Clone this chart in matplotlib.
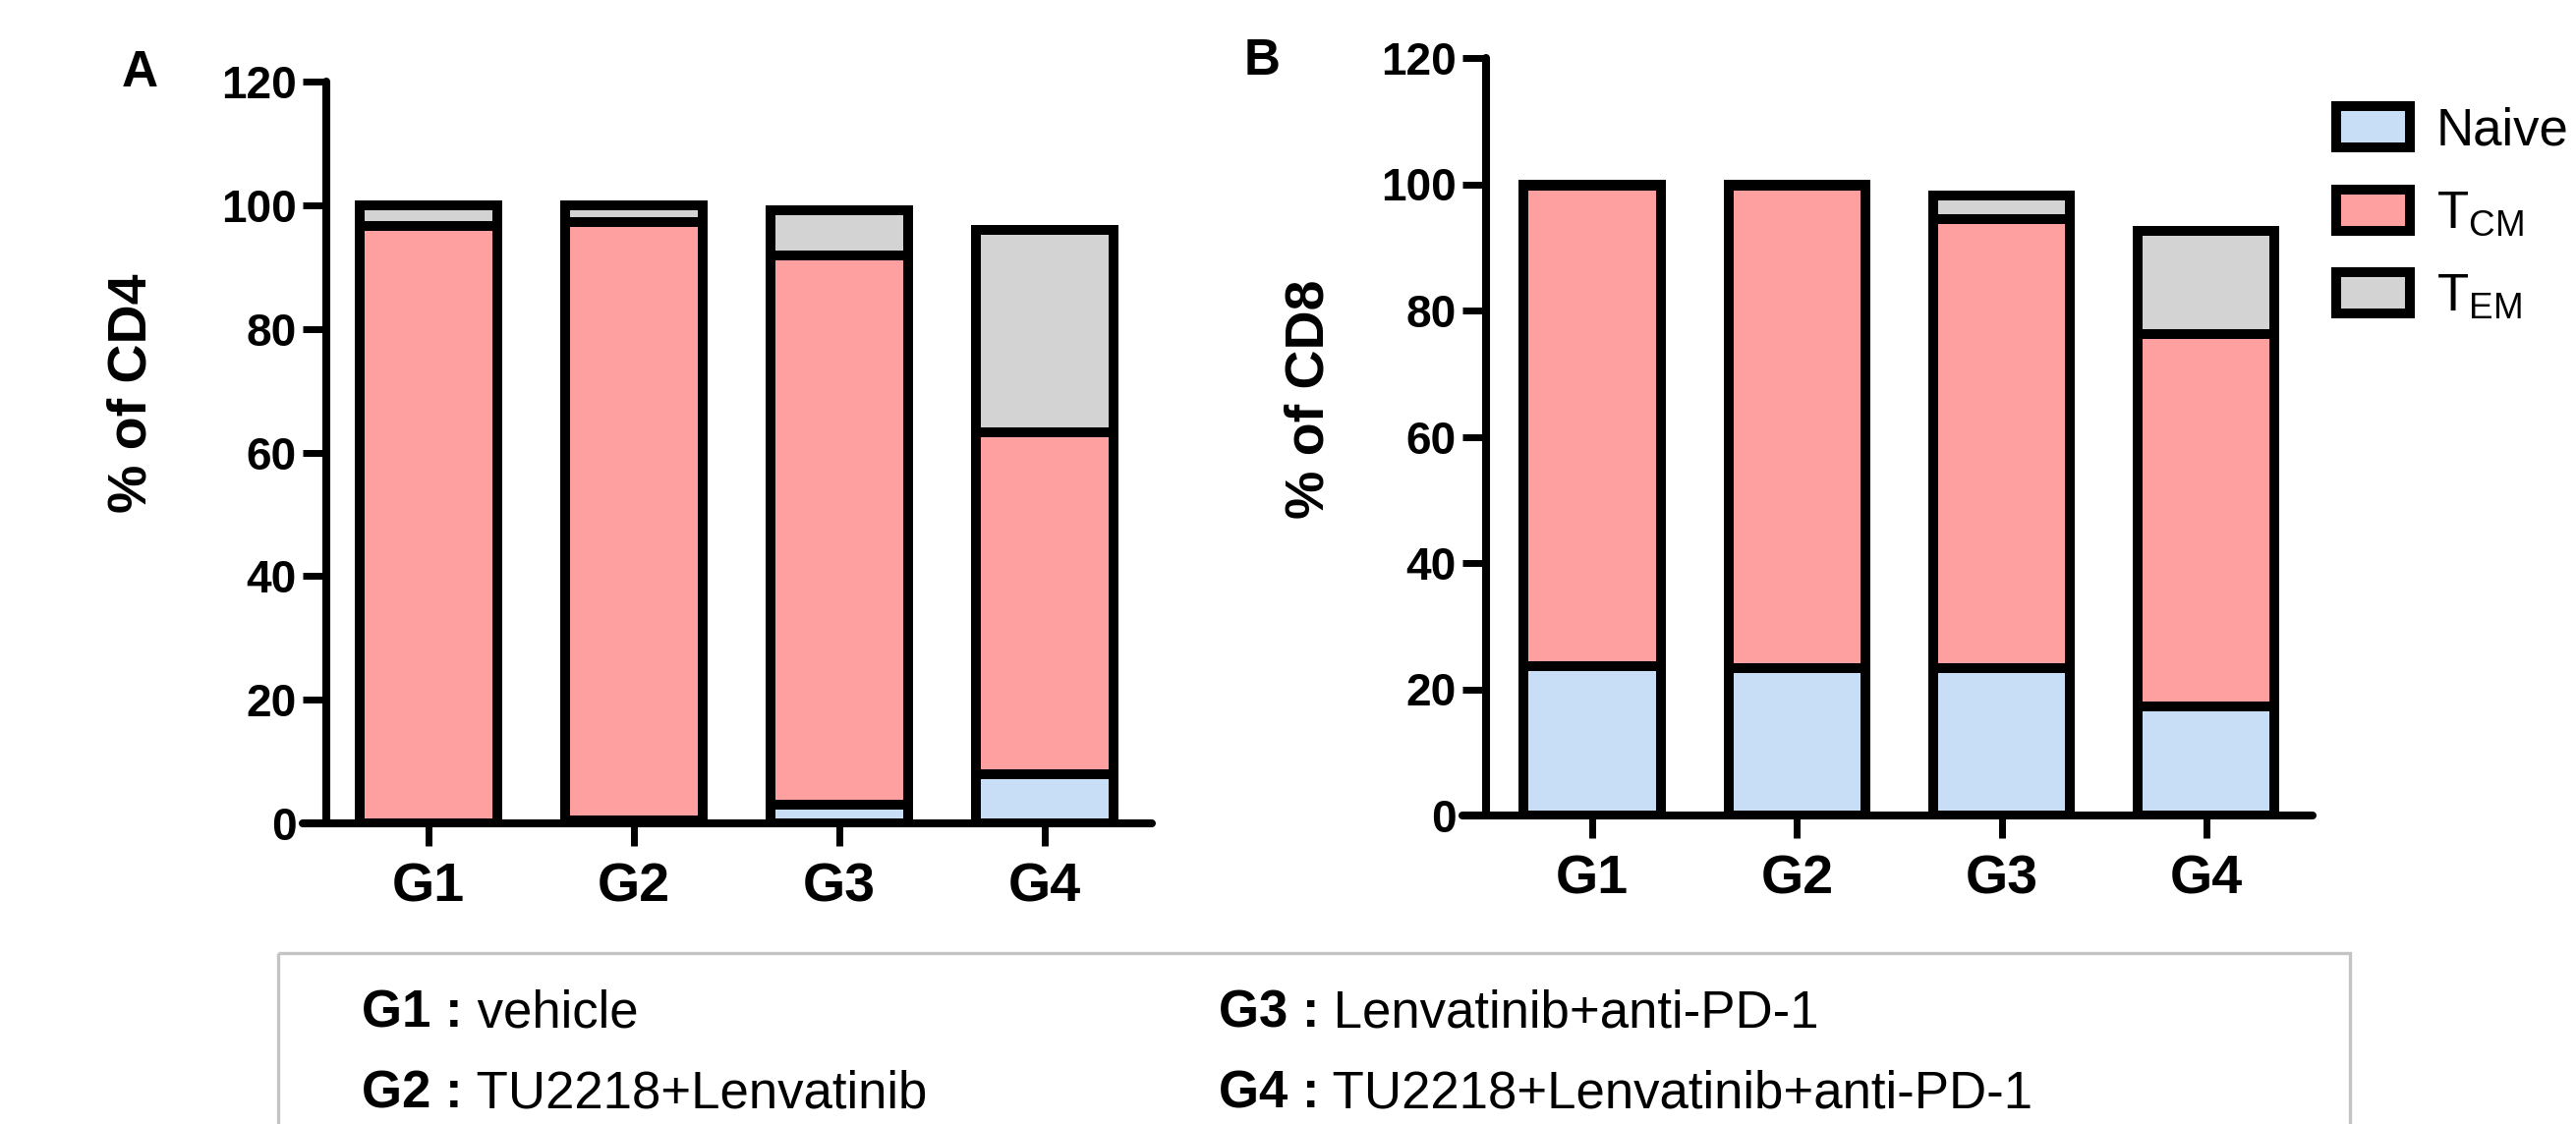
import matplotlib
matplotlib.use("Agg")
import matplotlib.pyplot as plt
from matplotlib.patches import Patch, Rectangle

plt.rcParams['font.family'] = ['Liberation Sans', 'DejaVu Sans']
plt.rcParams['mathtext.fontset'] = 'custom'
plt.rcParams['mathtext.rm'] = 'Liberation Sans'

groups = ['G1', 'G2', 'G3', 'G4']
subsets = ['Naive', r'T$_{\mathrm{CM}}$', r'T$_{\mathrm{EM}}$']
colors = ['#C8DEF6', '#FFA0A0', '#D3D3D3']
yticks = [0, 20, 40, 60, 80, 100, 120]

# % of CD4
cd4_naive = [0.0, 0.5, 3.0, 8.0]
cd4_tcm = [96.6, 96.7, 88.8, 55.2]
cd4_tem = [3.4, 2.8, 7.3, 32.8]

# % of CD8
cd8_naive = [23.7, 23.3, 23.4, 17.2]
cd8_tcm = [76.0, 76.4, 71.1, 59.0]
cd8_tem = [0.3, 0.3, 3.7, 16.4]

legend_text = [('G1 :', 'vehicle'), ('G2 :', 'TU2218+Lenvatinib'),
               ('G3 :', 'Lenvatinib+anti-PD-1'), ('G4 :', 'TU2218+Lenvatinib+anti-PD-1')]

W, H = 2621, 1144
fig = plt.figure(figsize=(W / 200, H / 200), dpi=200)

lw = 3.6


def stacked(ax, naive, tcm, tem, ylabel, spine_x, label_xy):
    # spine position first: moving a spine resets the ticks
    ax.spines['top'].set_visible(False)
    ax.spines['right'].set_visible(False)
    ax.spines['left'].set_position(('data', spine_x))
    for s in ('left', 'bottom'):
        ax.spines[s].set_linewidth(2.9)
        ax.spines[s].set_capstyle('round')

    x = range(len(groups))
    bottom2 = [a + b for a, b in zip(naive, tcm)]
    ax.bar(x, naive, 0.67, color=colors[0], edgecolor='black', linewidth=lw)
    ax.bar(x, tcm, 0.67, bottom=naive, color=colors[1], edgecolor='black', linewidth=lw)
    ax.bar(x, tem, 0.67, bottom=bottom2, color=colors[2], edgecolor='black', linewidth=lw)
    ax.set_ylim(0, 120)
    ax.set_xlim(spine_x - 0.115, 3.52)
    ax.tick_params(axis='y', width=2.5, length=8.6, pad=2.2)
    ax.tick_params(axis='x', width=2.5, length=8.3, pad=6)
    ax.set_yticks(yticks, labels=[str(v) for v in yticks], fontsize=16.5, fontweight='bold')
    ax.set_xticks(list(x), labels=groups, fontsize=20, fontweight='bold')
    ax.set_ylabel(ylabel, fontsize=20, fontweight='bold')
    ax.yaxis.set_label_coords(*label_xy)


ax_a = fig.add_axes([307.5 / W, 1 - 838 / H, 864 / W, 755 / H])
stacked(ax_a, cd4_naive, cd4_tcm, cd4_tem, '% of CD4', -0.5, (-0.17, 0.58))

ax_b = fig.add_axes([1488 / W, 1 - 830 / H, 865 / W, 771 / H])
stacked(ax_b, cd8_naive, cd8_tcm, cd8_tem, '% of CD8', -0.52, (-0.15, 0.55))

fig.text(142 / W, 1 - 75 / H, 'A', fontsize=18.5, fontweight='bold', ha='center', va='center')
fig.text(1284 / W, 1 - 63 / H, 'B', fontsize=18.5, fontweight='bold', ha='center', va='center')

handles = [Patch(facecolor=c, edgecolor='black', linewidth=3.6) for c in colors]
fig.legend(handles, subsets, loc='upper left', bbox_to_anchor=(2377 / W, 1 - 108 / H),
           frameon=False, fontsize=19, handlelength=1.43, handleheight=0.85,
           handletextpad=0.5, labelspacing=0.65, borderpad=0, borderaxespad=0)

# group description box
ax_t = fig.add_axes([0, 0, 1, 1])
ax_t.set_xlim(0, W)
ax_t.set_ylim(H, 0)
ax_t.axis('off')
ax_t.add_patch(Rectangle((283, 970), 2391 - 283, 300, facecolor='none',
                         edgecolor='#C4C4C4', linewidth=1.2, clip_on=False))
pos = [(368, 1045), (368, 1128), (1240, 1045), (1240, 1128)]
for (g, desc), (px, py) in zip(legend_text, pos):
    t = ax_t.text(px, py, g, fontsize=19, fontweight='bold', va='baseline')
    ax_t.annotate(' ' + desc, xy=(1, 0), xycoords=t, fontsize=19, va='bottom')

fig.savefig('out.png', dpi=200)
